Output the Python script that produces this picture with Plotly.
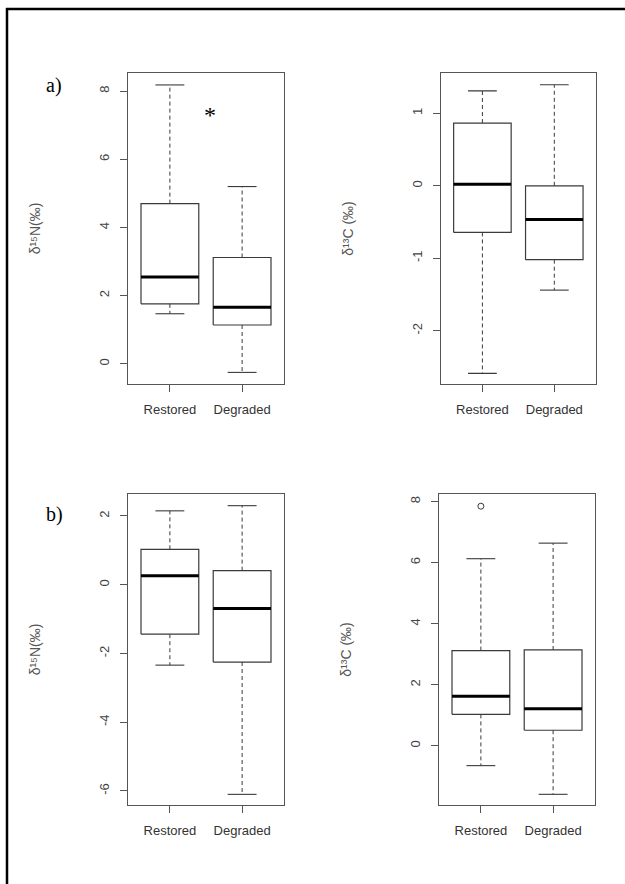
import plotly.graph_objects as go

# ---------------- data ----------------
groups = ["Restored", "Degraded"]

# a) delta15N
a_n_low = [1.47, -0.25]
a_n_q1 = [1.76, 1.14]
a_n_med = [2.55, 1.66]
a_n_q3 = [4.70, 3.12]
a_n_high = [8.18, 5.20]

# a) delta13C
a_c_low = [-2.59, -1.44]
a_c_q1 = [-0.644, -1.02]
a_c_med = [0.023, -0.464]
a_c_q3 = [0.866, 0.0]
a_c_high = [1.31, 1.395]

# b) delta15N
b_n_low = [-2.34, -6.10]
b_n_q1 = [-1.44, -2.25]
b_n_med = [0.26, -0.69]
b_n_q3 = [1.03, 0.41]
b_n_high = [2.15, 2.30]

# b) delta13C
b_c_low = [-0.65, -1.59]
b_c_q1 = [1.03, 0.51]
b_c_med = [1.62, 1.21]
b_c_q3 = [3.12, 3.14]
b_c_high = [6.13, 6.64]
b_c_outliers = [[7.85], []]

a_n_ticks = [0, 2, 4, 6, 8]
a_c_ticks = [-2, -1, 0, 1]
b_n_ticks = [-6, -4, -2, 0, 2]
b_c_ticks = [0, 2, 4, 6, 8]

ytitle_n = "δ¹⁵N(‰)"
ytitle_c = "δ¹³C (‰)"

# ---------------- figure ----------------
W, H = 625, 884
fig = go.Figure()

BOXHW = 0.4
CAPHW = 0.2
LINEC = "#3a3a3a"


def add_boxes(xa, ya, low, q1, med, q3, high, outliers=None):
    bx, by, mx, my, wx, wy, cx, cy = [], [], [], [], [], [], [], []
    for i in range(len(groups)):
        p = i + 1
        bx += [p - BOXHW, p + BOXHW, p + BOXHW, p - BOXHW, p - BOXHW, None]
        by += [q1[i], q1[i], q3[i], q3[i], q1[i], None]
        mx += [p - BOXHW, p + BOXHW, None]
        my += [med[i], med[i], None]
        wx += [p, p, None, p, p, None]
        wy += [q3[i], high[i], None, q1[i], low[i], None]
        cx += [p - CAPHW, p + CAPHW, None, p - CAPHW, p + CAPHW, None]
        cy += [high[i], high[i], None, low[i], low[i], None]
    common = dict(xaxis=xa, yaxis=ya, mode="lines", showlegend=False, hoverinfo="skip")
    fig.add_trace(go.Scatter(x=wx, y=wy, line=dict(color=LINEC, width=1, dash="4px,3px"), **common))
    fig.add_trace(go.Scatter(x=cx, y=cy, line=dict(color=LINEC, width=1.1), **common))
    fig.add_trace(go.Scatter(x=bx, y=by, line=dict(color=LINEC, width=1.2), **common))
    fig.add_trace(go.Scatter(x=mx, y=my, line=dict(color="#000000", width=3), **common))
    if outliers:
        ox, oy = [], []
        for i, vals in enumerate(outliers):
            for v in vals:
                ox.append(i + 1)
                oy.append(v)
        fig.add_trace(go.Scatter(x=ox, y=oy, xaxis=xa, yaxis=ya, mode="markers", showlegend=False,
                                 marker=dict(symbol="circle-open", size=6, color=LINEC, line=dict(width=1))))


add_boxes("x", "y", a_n_low, a_n_q1, a_n_med, a_n_q3, a_n_high)
add_boxes("x2", "y2", a_c_low, a_c_q1, a_c_med, a_c_q3, a_c_high)
add_boxes("x3", "y3", b_n_low, b_n_q1, b_n_med, b_n_q3, b_n_high)
add_boxes("x4", "y4", b_c_low, b_c_q1, b_c_med, b_c_q3, b_c_high, b_c_outliers)


def px_x(v):
    return v / W


def px_y(v):
    return 1 - v / H


FONT = "Liberation Sans, Arial, sans-serif"
AXC = "#555555"


def xaxis(x0, x1, anchor):
    return dict(domain=[px_x(x0), px_x(x1)], range=[0.42, 2.58], tickmode="array",
                tickvals=[1, 2], ticktext=groups, ticks="outside", ticklen=7, tickcolor=AXC,
                tickwidth=1, showline=True, mirror=True, linecolor=AXC, linewidth=1,
                showgrid=False, zeroline=False, anchor=anchor,
                tickfont=dict(family=FONT, size=13, color="#333333"), ticklabelstandoff=6)


def yaxis(y0, y1, rng, tickv, anchor, title):
    return dict(domain=[px_y(y1), px_y(y0)], range=rng, tickmode="array", tickvals=tickv,
                ticktext=[str(t) for t in tickv], tickangle=-90, ticks="outside", ticklen=7,
                tickcolor=AXC, tickwidth=1, showline=True, mirror=True, linecolor=AXC,
                linewidth=1, showgrid=False, zeroline=False, anchor=anchor,
                tickfont=dict(family=FONT, size=13, color="#444444"), ticklabelstandoff=6,
                title=dict(text=title, standoff=52, font=dict(family=FONT, size=14, color="#555555")))


fig.update_layout(
    width=W, height=H, margin=dict(l=0, r=0, t=0, b=0),
    paper_bgcolor="white", plot_bgcolor="white", showlegend=False,
    xaxis=xaxis(128, 284, "y"),
    yaxis=yaxis(73, 384, [-0.59, 8.53], a_n_ticks, "x", ytitle_n),
    xaxis2=xaxis(440.7, 596, "y2"),
    yaxis2=yaxis(73, 384, [-2.736, 1.557], a_c_ticks, "x2", ytitle_c),
    xaxis3=xaxis(128, 284, "y3"),
    yaxis3=yaxis(494, 805, [-6.41, 2.64], b_n_ticks, "x3", ytitle_n),
    xaxis4=xaxis(439, 595, "y4"),
    yaxis4=yaxis(494, 805, [-1.94, 8.25], b_c_ticks, "x4", ytitle_c),
)

annos = []
SERIF = "Liberation Serif, Times New Roman, serif"
annos.append(dict(text="a)", x=px_x(54), y=px_y(86), xref="paper", yref="paper", showarrow=False,
                  xanchor="center", yanchor="middle", font=dict(family=SERIF, size=20, color="black")))
annos.append(dict(text="b)", x=px_x(54), y=px_y(514), xref="paper", yref="paper", showarrow=False,
                  xanchor="center", yanchor="middle", font=dict(family=SERIF, size=20, color="black")))
annos.append(dict(text="*", x=1.56, y=7.3, xref="x", yref="y", showarrow=False,
                  xanchor="center", yanchor="middle", font=dict(family=SERIF, size=24, color="black")))
fig.update_layout(annotations=annos)

# page border (left and top)
fig.update_layout(shapes=[
    dict(type="line", xref="paper", yref="paper", x0=px_x(7), x1=px_x(7), y0=0, y1=px_y(8),
         line=dict(color="black", width=2.5)),
    dict(type="line", xref="paper", yref="paper", x0=px_x(6), x1=1, y0=px_y(9), y1=px_y(9),
         line=dict(color="black", width=2.5)),
])

fig.write_html("out.html", config={"displayModeBar": False},
               post_script="document.body.style.margin='0';")
